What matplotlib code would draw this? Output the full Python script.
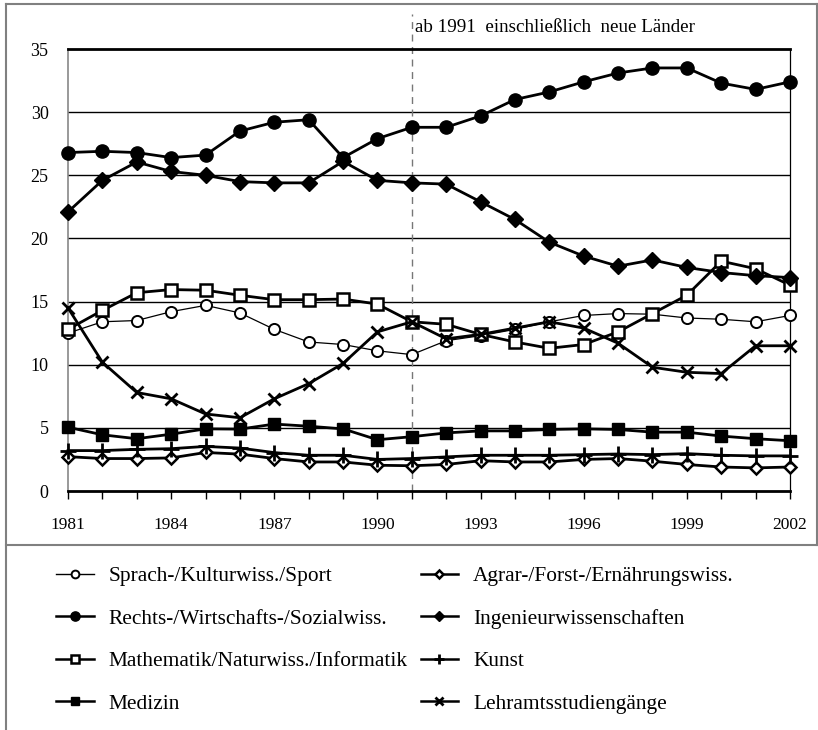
import matplotlib
matplotlib.use("Agg")
import matplotlib.pyplot as plt
from matplotlib.lines import Line2D

plt.rcParams['font.family'] = ['Liberation Serif', 'DejaVu Serif']

years = list(range(1981, 2003))
sprach = [12.5, 13.4, 13.5, 14.2, 14.7, 14.1, 12.8, 11.8, 11.6, 11.1, 10.8,
          11.9, 12.3, 12.8, 13.4, 13.9, 14.05, 14.0, 13.7, 13.6, 13.4, 13.9]
rechts = [26.8, 26.9, 26.8, 26.4, 26.6, 28.5, 29.2, 29.4, 26.4, 27.9, 28.8,
          28.8, 29.7, 31.0, 31.6, 32.4, 33.1, 33.5, 33.5, 32.3, 31.8, 32.4]
mathe = [12.8, 14.3, 15.7, 15.95, 15.9, 15.5, 15.15, 15.15, 15.2, 14.8, 13.4,
         13.2, 12.4, 11.8, 11.3, 11.6, 12.6, 14.05, 15.5, 18.2, 17.6, 16.3]
medizin = [5.05, 4.45, 4.14, 4.5, 4.92, 4.9, 5.3, 5.13, 4.92, 4.06, 4.3,
           4.6, 4.76, 4.76, 4.87, 4.92, 4.87, 4.66, 4.66, 4.35, 4.14, 3.98]
agrar = [2.72, 2.57, 2.57, 2.62, 3.05, 2.92, 2.57, 2.3, 2.3, 2.04, 2.0,
         2.1, 2.4, 2.3, 2.3, 2.5, 2.57, 2.36, 2.1, 1.9, 1.83, 1.9]
ingenieur = [22.1, 24.6, 26.05, 25.3, 25.0, 24.5, 24.4, 24.4, 26.1, 24.6, 24.4,
             24.3, 22.9, 21.5, 19.7, 18.6, 17.8, 18.3, 17.7, 17.3, 17.05, 16.9]
kunst = [3.2, 3.2, 3.3, 3.35, 3.53, 3.4, 3.04, 2.83, 2.83, 2.5, 2.57,
         2.7, 2.83, 2.83, 2.83, 2.88, 2.93, 2.88, 2.96, 2.83, 2.78, 2.78]
lehramt = [14.5, 10.2, 7.8, 7.3, 6.1, 5.8, 7.3, 8.5, 10.1, 12.6, 13.4,
           12.05, 12.4, 12.9, 13.4, 12.9, 11.7, 9.8, 9.4, 9.3, 11.5, 11.5]

labels = ["Sprach-/Kulturwiss./Sport", "Rechts-/Wirtschafts-/Sozialwiss.",
          "Mathematik/Naturwiss./Informatik", "Medizin",
          "Agrar-/Forst-/Ernährungswiss.", "Ingenieurwissenschaften",
          "Kunst", "Lehramtsstudiengänge"]
xtick_years = [1981, 1984, 1987, 1990, 1993, 1996, 1999, 2002]
yticks = [0, 5, 10, 15, 20, 25, 30, 35]
annot = "ab 1991  einschließlich  neue Länder"

fig = plt.figure(figsize=(8.18, 7.30), dpi=100)
ax = fig.add_axes([68/818, 1-491/730, (790-68)/818, (491-49)/730])

for y in yticks[1:-1]:
    ax.axhline(y, color='black', lw=1.0, zorder=1)

styles = [
    dict(data=sprach, marker='o', ms=8, mfc='white', mew=1.4, lw=0.9),
    dict(data=rechts, marker='o', ms=9.5, mfc='black', mew=1, lw=2.0),
    dict(data=mathe, marker='s', ms=8, mfc='white', mew=1.8, lw=2.0),
    dict(data=medizin, marker='s', ms=8.5, mfc='black', mew=1, lw=2.0),
    dict(data=agrar, marker='D', ms=6, mfc='white', mew=1.8, lw=2.0),
    dict(data=ingenieur, marker='D', ms=8, mfc='black', mew=1, lw=2.0),
    dict(data=kunst, marker='+', ms=11, mfc='black', mew=2.0, lw=2.0),
    dict(data=lehramt, marker='x', ms=9, mfc='black', mew=2.0, lw=2.0),
]
handles = []
for st, lab in zip(styles, labels):
    h, = ax.plot(years, st['data'], color='black', marker=st['marker'],
                 ms=st['ms'], mfc=st['mfc'], mec='black', mew=st['mew'],
                 lw=st['lw'], label=lab, zorder=3, clip_on=False)
    handles.append(h)

ax.set_xlim(1981, 2002)
ax.set_ylim(0, 35)
ax.set_xticks(years, minor=True)
ax.set_xticks(xtick_years)
ax.set_xticklabels([str(y) for y in xtick_years], fontsize=12.5)
ax.set_yticks(yticks)
ax.set_yticklabels([str(v) for v in yticks], fontsize=13)
ax.tick_params(axis='x', which='both', direction='out', length=6, width=1,
               pad=13, color='black')
ax.tick_params(axis='y', length=0, pad=14)

ax.spines['left'].set_color('#888888')
ax.spines['left'].set_linewidth(1.2)
ax.spines['right'].set_color('black')
ax.spines['right'].set_linewidth(0.9)
ax.spines['top'].set_color('black')
ax.spines['top'].set_linewidth(2.0)
ax.spines['bottom'].set_color('black')
ax.spines['bottom'].set_linewidth(2.0)

ax.axvline(1991, ymin=0, ymax=(491-14)/(491-49), color='#777777', lw=1.0,
           ls=(0, (5, 4)), clip_on=False, zorder=2)
ax.text(1991.1, 35 + 22/12.63, annot, fontsize=13.7, va='center', ha='left')

leg = fig.legend(handles=handles, labels=labels, ncol=2, loc='upper left',
                 bbox_to_anchor=(37/818, 1-547/730), frameon=False,
                 fontsize=15.4, handlelength=1.75, handletextpad=0.7,
                 labelspacing=1.05, columnspacing=0.6, markerscale=0.7)
for ln in leg.get_lines():
    ln.set_linewidth(1.8)
leg.get_lines()[0].set_linewidth(1.0)

gray = '#808080'
def fl(x0, y0, x1, y1):
    fig.add_artist(Line2D([x0/818, x1/818], [1-y0/730, 1-y1/730],
                          transform=fig.transFigure, color=gray, lw=1.5))
fl(6, 4, 817, 4)
fl(6, 4, 6, 730)
fl(817, 4, 817, 545)
fl(6, 545, 817, 545)

fig.savefig("out.png", dpi=100)
